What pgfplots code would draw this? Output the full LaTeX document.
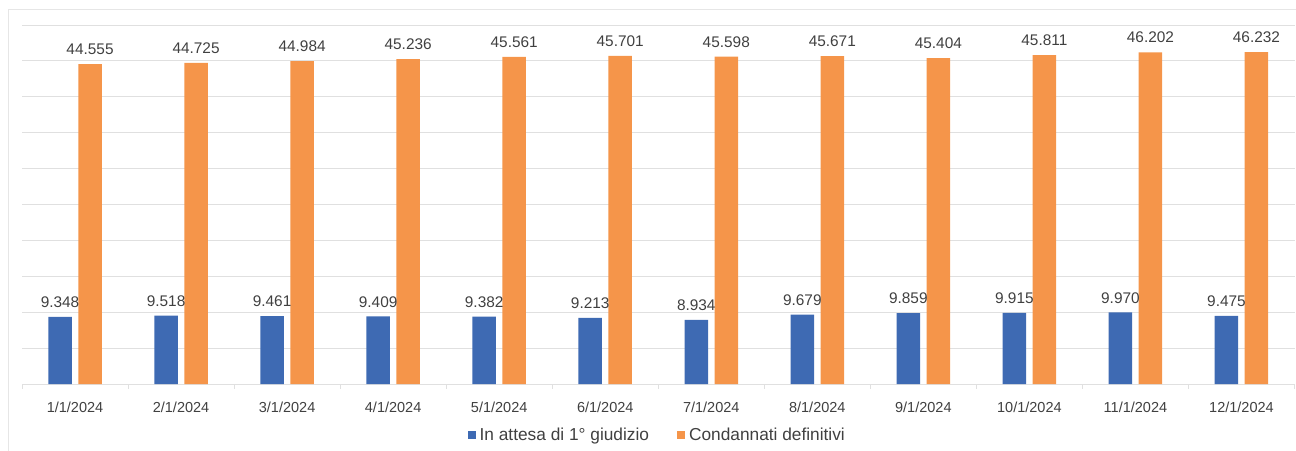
\documentclass[border=0pt]{standalone}
\usepackage{fontspec}
\setmainfont{Liberation Sans}
\usepackage{pgfplots}
\usepackage{pgfplotstable}
\pgfplotsset{compat=1.18}

\definecolor{barblue}{HTML}{3E6AB3}
\definecolor{barorange}{HTML}{F5954A}
\definecolor{txtgrey}{HTML}{404040}
\definecolor{gridgrey}{HTML}{E0E0E0}
\definecolor{framegrey}{HTML}{E6E6E6}

\newcommand\tickfont{\fontsize{14.5}{17}\selectfont}
\newcommand\valfont{\fontsize{15.4}{18}\selectfont}
\newcommand\legfont{\fontsize{17.3}{20}\selectfont}

% month index, detainees awaiting first judgement, definitively sentenced
\pgfplotstableread{
x attesa condannati
0  9348 44555
1  9518 44725
2  9461 44984
3  9409 45236
4  9382 45561
5  9213 45701
6  8934 45598
7  9679 45671
8  9859 45404
9  9915 45811
10 9970 46202
11 9475 46232
}\detenuti

\begin{document}
\begin{tikzpicture}
\useasboundingbox (0pt,0pt) rectangle (1296pt,450pt);
\draw[framegrey, line width=1pt] (8pt,-20pt) rectangle (1320pt,440pt);
\begin{axis}[
  at={(22pt,66pt)}, anchor=south west,
  scale only axis, width=1272.5pt, height=359pt,
  ybar=6.5pt, bar width=23.5pt,
  xmin=-0.5, xmax=11.5,
  ymin=0, ymax=50000,
  ytick={0,5000,...,50000}, yticklabels={},
  scaled y ticks=false,
  ymajorgrids, major grid style={gridgrey, line width=0.9pt},
  axis line style={draw=none},
  ytick style={draw=none},
  xtick=data,
  xticklabels={1/1/2024,2/1/2024,3/1/2024,4/1/2024,5/1/2024,6/1/2024,7/1/2024,8/1/2024,9/1/2024,10/1/2024,11/1/2024,12/1/2024},
  xtick pos=bottom,
  major x tick style={draw=none},
  minor xtick={-0.5,0.5,...,11.5},
  minor x tick style={gridgrey, line width=0.8pt},
  minor tick length=5pt,
  xticklabel style={font=\tickfont, text=txtgrey, yshift=-10pt},
  nodes near coords,
  every node near coord/.append style={font=\valfont, text=txtgrey, inner sep=0pt, anchor=south, yshift=9pt},
  /pgf/number format/.cd, fixed, precision=0, 1000 sep={.}, assume math mode=true,
  /pgfplots/.cd,
  legend columns=2,
  legend style={at={(0.5,-0.142)}, anchor=center, draw=none, fill=none,
    font=\legfont, text=txtgrey,
    nodes={inner xsep=4pt}},
  legend image code/.code={\fill[#1] (0pt,-4pt) rectangle (8pt,4pt);},
]
\addplot[fill=barblue, draw=none] table[x=x, y=attesa] {\detenuti};
\addplot[fill=barorange, draw=none] table[x=x, y=condannati] {\detenuti};
\legend{In attesa di 1° giudizio\hspace{24pt}\null, Condannati definitivi}
\end{axis}
\end{tikzpicture}
\end{document}
